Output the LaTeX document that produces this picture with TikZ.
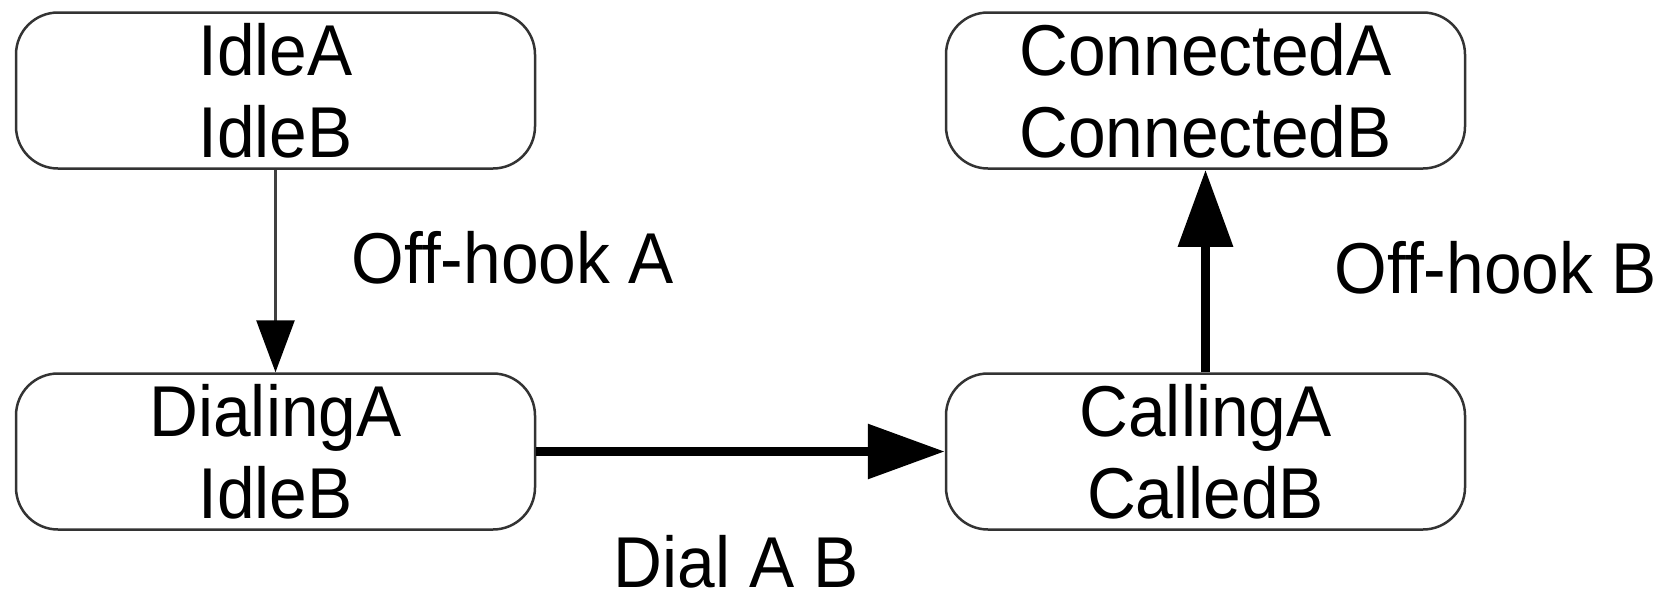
\documentclass[tikz,border=0pt]{standalone}
\usepackage{fontspec}
\setmainfont{Liberation Sans}[FakeStretch=0.94]
\usetikzlibrary{arrows.meta}
\begin{document}
\begin{tikzpicture}[x=1pt,y=-1pt,
  labeltext/.style={font=\fontsize{72}{82}\selectfont,inner sep=0pt,anchor=base},
  state/.style={draw=black!80,line width=2.5pt,rounded corners=42pt,
    minimum width=519pt,minimum height=156pt,inner sep=0pt,align=center,
    font=\fontsize{72}{82}\selectfont},
  thinarrow/.style={draw=black!75,line width=2.7pt,
    -{Triangle[length=52pt,width=38pt,color=black]}},
  thickarrow/.style={draw=black,line width=9.5pt,
    -{Triangle[length=77pt,width=53pt]}}]
  \useasboundingbox (0,0) rectangle (1671,603);
  % states
  \node[state] (idle) at (275.5,90.5) {IdleA\\IdleB};
  \node[state] (dial) at (275.5,451.5) {DialingA\\IdleB};
  \node[state] (conn) at (1205.5,90.5) {ConnectedA\\ConnectedB};
  \node[state] (call) at (1205.5,451.5) {CallingA\\CalledB};
  % transitions
  \draw[thinarrow] (idle.south) -- (dial.north);
  \draw[thickarrow] (dial.east) -- (call.west);
  \draw[thickarrow] (call.north) -- (conn.south);
  % transition labels
  \node[labeltext] (lblA) at (513,283) {Off-hook A};
  \node[labeltext] (lblB) at (1496,293) {Off-hook B};
  \node[labeltext] (lblD) at (736,587) {Dial A B};
\end{tikzpicture}
\end{document}
